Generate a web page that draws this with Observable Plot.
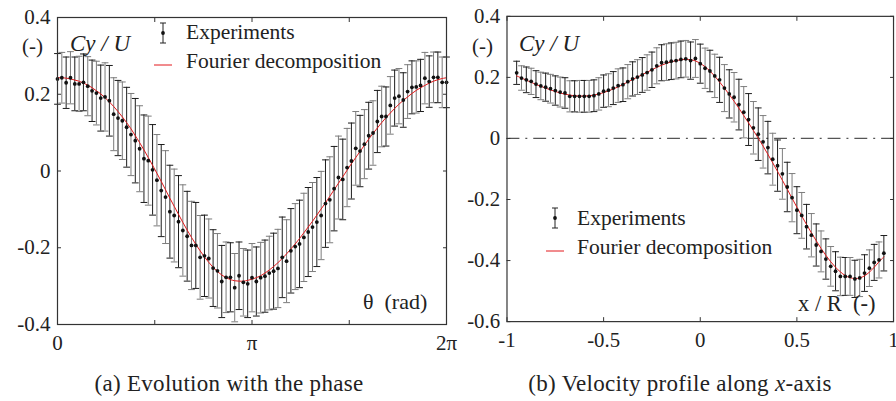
<!DOCTYPE html>
<html><head><meta charset="utf-8">
<script src="https://cdn.jsdelivr.net/npm/d3@7"></script>
<script src="https://cdn.jsdelivr.net/npm/@observablehq/plot@0.6"></script>
<style>
html,body{margin:0;padding:0;background:#fff;overflow:hidden;width:896px;height:401px;}
#wrap{position:relative;width:896px;height:401px;overflow:hidden;}
#left{position:absolute;left:0;top:0;}
#right{position:absolute;left:450px;top:0;}
#overlay{position:absolute;left:0;top:0;pointer-events:none;}
#overlay text{font-family:'Liberation Serif',serif;fill:#222;}
</style></head>
<body><div id="wrap"><div id="left"></div><div id="right"></div>
<svg id="overlay" width="896" height="401">
  <!-- left panel texts -->
  <text x="22" y="53" font-size="21">(-)</text>
  <text x="70" y="51" font-size="23" font-style="italic">Cy / U</text>
  <g stroke="#222" stroke-width="1">
    <line x1="163" y1="23" x2="163" y2="43"/><line x1="160" y1="23" x2="166" y2="23"/><line x1="160" y1="43" x2="166" y2="43"/>
  </g>
  <circle cx="163" cy="33" r="1.9" fill="#111"/>
  <line x1="154" y1="65" x2="172" y2="65" stroke="#e3191c" stroke-width="1"/>
  <text x="186" y="39" font-size="21.5">Experiments</text>
  <text x="186" y="68" font-size="21.5">Fourier decomposition</text>
  <text x="363" y="309" font-size="22">θ&#160;&#160;(rad)</text>
  <!-- right panel texts -->
  <text x="472" y="53" font-size="21">(-)</text>
  <text x="519" y="51" font-size="23" font-style="italic">Cy / U</text>
  <g stroke="#222" stroke-width="1">
    <line x1="555" y1="208" x2="555" y2="228"/><line x1="552" y1="208" x2="558" y2="208"/><line x1="552" y1="228" x2="558" y2="228"/>
  </g>
  <circle cx="555" cy="218" r="1.9" fill="#111"/>
  <line x1="546" y1="251" x2="564" y2="251" stroke="#e3191c" stroke-width="1"/>
  <text x="577" y="225" font-size="21.5">Experiments</text>
  <text x="577" y="254" font-size="21.5">Fourier decomposition</text>
  <text x="798" y="311" font-size="22.5">x / R&#160;&#160;(-)</text>
  <!-- captions -->
  <text x="229" y="391" font-size="23" text-anchor="middle" letter-spacing="0.3">(a) Evolution with the phase</text>
  <text x="680" y="391" font-size="23" text-anchor="middle" letter-spacing="0.3">(b) Velocity profile along <tspan font-style="italic">x</tspan>-axis</text>
</svg>
</div>
<script>
// ---------- Panel (a): evolution with the phase ----------
const phaseDeg = [0,4,8,12,16,20,24,28,32,36,40,44,48,52,56,60,64,68,72,76,80,84,88,92,96,100,104,108,112,116,120,124,128,132,136,140,144,148,152,156,160,164,168,172,176,180,184,188,192,196,200,204,208,212,216,220,224,228,232,236,240,244,248,252,256,260,264,268,272,276,280,284,288,292,296,300,304,308,312,316,320,324,328,332,336,340,344,348,352,356,360];
const phaseCy = [0.240,0.243,0.230,0.243,0.227,0.227,0.231,0.221,0.209,0.203,
  0.190,0.193,0.183,0.148,0.138,0.131,0.114,0.095,0.079,0.058,
  0.032,0.027,0.003,-0.024,-0.051,-0.068,-0.106,-0.116,-0.132,-0.155,
  -0.170,-0.194,-0.194,-0.225,-0.221,-0.228,-0.253,-0.260,-0.288,-0.277,
  -0.277,-0.304,-0.273,-0.290,-0.294,-0.278,-0.288,-0.278,-0.274,-0.266,
  -0.261,-0.254,-0.225,-0.235,-0.208,-0.197,-0.190,-0.173,-0.159,-0.146,
  -0.133,-0.116,-0.085,-0.075,-0.046,-0.017,-0.022,0.009,0.026,0.059,
  0.052,0.070,0.092,0.099,0.129,0.142,0.142,0.171,0.190,0.195,
  0.185,0.207,0.218,0.219,0.223,0.242,0.233,0.244,0.244,0.231,0.231];
const phaseFit = [0.243,0.243,0.242,0.240,0.237,0.234,0.229,0.224,0.217,0.209,
  0.201,0.191,0.180,0.168,0.155,0.141,0.126,0.110,0.092,0.074,
  0.055,0.035,0.015,-0.006,-0.027,-0.049,-0.071,-0.092,-0.113,-0.134,
  -0.154,-0.173,-0.191,-0.208,-0.224,-0.238,-0.251,-0.262,-0.271,-0.278,
  -0.283,-0.286,-0.287,-0.287,-0.285,-0.282,-0.278,-0.273,-0.266,-0.258,
  -0.249,-0.239,-0.228,-0.216,-0.203,-0.190,-0.176,-0.161,-0.146,-0.131,
  -0.115,-0.099,-0.083,-0.066,-0.049,-0.032,-0.015,0.002,0.019,0.035,
  0.051,0.067,0.083,0.098,0.112,0.126,0.139,0.151,0.163,0.174,
  0.184,0.193,0.202,0.210,0.217,0.223,0.229,0.234,0.238,0.241,0.243];
const phaseErr = [0.066,0.066,0.067,0.068,0.070,0.072,0.074,0.077,0.080,0.083,
  0.086,0.089,0.092,0.095,0.098,0.101,0.104,0.107,0.110,0.112,
  0.114,0.116,0.118,0.119,0.120,0.121,0.121,0.121,0.120,0.119,
  0.117,0.115,0.112,0.109,0.106,0.103,0.100,0.097,0.094,0.092,
  0.090,0.089,0.088,0.088,0.088,0.089,0.090,0.092,0.094,0.096,
  0.099,0.102,0.105,0.108,0.110,0.112,0.114,0.115,0.116,0.116,
  0.116,0.115,0.114,0.112,0.110,0.108,0.105,0.102,0.099,0.096,
  0.093,0.090,0.087,0.084,0.081,0.079,0.077,0.075,0.073,0.072,
  0.071,0.070,0.069,0.068,0.068,0.067,0.067,0.066,0.066,0.066,0.066];
const phaseTicks = [0,90,180,270,360];
const phaseTickLabels = ["0","","π","","2π"];
const cyTicksA = [-0.4,-0.2,0,0.2,0.4];
const cyTickLabelsA = ["-0.4","-0.2","0","0.2","0.4"];

// ---------- Panel (b): velocity profile along x-axis ----------
const xR = [-0.95,-0.925,-0.9,-0.875,-0.85,-0.825,-0.8,-0.775,-0.75,-0.725,-0.7,-0.675,-0.65,-0.625,-0.6,-0.575,-0.55,-0.525,-0.5,-0.475,-0.45,-0.425,-0.4,-0.375,-0.35,-0.325,-0.3,-0.275,-0.25,-0.225,-0.2,-0.175,-0.15,-0.125,-0.1,-0.075,-0.05,-0.025,0,0.025,0.05,0.075,0.1,0.125,0.15,0.175,0.2,0.225,0.25,0.275,0.3,0.325,0.35,0.375,0.4,0.425,0.45,0.475,0.5,0.525,0.55,0.575,0.6,0.625,0.65,0.675,0.7,0.725,0.75,0.775,0.8,0.825,0.85,0.875,0.9,0.925,0.95];
const profCy = [0.215,0.198,0.192,0.187,0.178,0.172,0.168,0.163,0.157,0.152,
  0.149,0.138,0.138,0.138,0.138,0.138,0.140,0.146,0.155,0.158,
  0.165,0.173,0.176,0.186,0.195,0.201,0.208,0.216,0.225,0.238,
  0.248,0.250,0.253,0.255,0.259,0.261,0.255,0.262,0.245,0.230,
  0.221,0.205,0.192,0.165,0.146,0.135,0.111,0.086,0.062,0.035,
  0.014,-0.011,-0.030,-0.068,-0.089,-0.116,-0.159,-0.194,-0.235,-0.252,
  -0.289,-0.317,-0.349,-0.370,-0.395,-0.419,-0.435,-0.452,-0.452,-0.452,
  -0.460,-0.457,-0.441,-0.425,-0.406,-0.398,-0.376];
const profFit = [0.205,0.198,0.191,0.184,0.177,0.171,0.165,0.159,0.154,0.149,
  0.145,0.142,0.140,0.139,0.139,0.140,0.142,0.146,0.150,0.156,
  0.162,0.169,0.177,0.185,0.193,0.201,0.209,0.217,0.225,0.233,
  0.240,0.246,0.251,0.255,0.258,0.259,0.258,0.254,0.246,0.235,
  0.221,0.204,0.185,0.165,0.144,0.122,0.099,0.075,0.051,0.026,
  0.001,-0.025,-0.052,-0.080,-0.108,-0.137,-0.166,-0.196,-0.225,-0.254,
  -0.282,-0.309,-0.335,-0.360,-0.383,-0.404,-0.422,-0.437,-0.449,-0.456,
  -0.459,-0.457,-0.450,-0.438,-0.422,-0.404,-0.388];
const profErr = [0.038,0.040,0.042,0.043,0.044,0.045,0.046,0.047,0.048,0.049,0.050,
  0.051,0.051,0.052,0.052,0.052,0.052,0.053,0.053,0.054,0.054,
  0.055,0.055,0.056,0.056,0.057,0.057,0.058,0.058,0.059,0.059,
  0.060,0.060,0.060,0.060,0.060,0.061,0.062,0.064,0.066,0.068,
  0.071,0.074,0.077,0.079,0.081,0.083,0.084,0.085,0.086,0.086,
  0.086,0.086,0.085,0.084,0.083,0.081,0.079,0.077,0.075,0.073,
  0.071,0.069,0.067,0.066,0.065,0.064,0.063,0.062,0.062,0.061,
  0.061,0.060,0.060,0.059,0.059,0.058];
const xTicksB = [-1,-0.5,0,0.5,1];
const xTickLabelsB = ["-1","-0.5","0","0.5","1"];
const cyTicksB = [-0.6,-0.4,-0.2,0,0.2,0.4];
const cyTickLabelsB = ["-0.6","-0.4","-0.2","0","0.2","0.4"];

// ---------- helpers ----------
const capSymbol = {draw(ctx, size){ const r = Math.sqrt(size/Math.PI); ctx.moveTo(-r,0); ctx.lineTo(r,0); }};
const barColors = ["#1c1c1c","#7c7c7c"];
const fmt = (ticks, labels) => { const m = new Map(ticks.map((t,i)=>[t,labels[i]])); return d => m.has(d) ? m.get(d) : ""; };
const baseStyle = {fontFamily:"'Liberation Serif', serif", fontSize:"21px", color:"#222", background:"transparent", overflow:"visible"};

function panel(xs, ys, fit, err, opts){
  const data = xs.map((x,i)=>({x, v: ys[i], lo: ys[i]-err[i], hi: ys[i]+err[i], fit: fit[i], c: barColors[i%2]}));
  const extra = opts.extra || [];
  return Plot.plot({
    width: opts.width, height: 360,
    marginLeft: 57, marginRight: opts.marginRight, marginTop: opts.marginTop, marginBottom: 36,
    style: baseStyle,
    x: {domain: opts.xDomain},
    y: {domain: opts.yDomain},
    marks: [
      ...extra,
      Plot.ruleX(data, {x:"x", y1:"lo", y2:"hi", stroke:"c", strokeWidth:1}),
      Plot.dot(data, {x:"x", y:"hi", symbol: capSymbol, r: 3.4, stroke:"c", fill:"none", strokeWidth:1}),
      Plot.dot(data, {x:"x", y:"lo", symbol: capSymbol, r: 3.4, stroke:"c", fill:"none", strokeWidth:1}),
      Plot.line(data, {x:"x", y:"fit", stroke:"#e3191c", strokeWidth:1, curve:"catmull-rom"}),
      Plot.dot(data, {x:"x", y:"v", r:1.9, fill:"#111", stroke:"none"}),
      Plot.frame({stroke:"#333", strokeWidth:1.2}),
      Plot.axisX(opts.xTicks, {anchor:"bottom", tickSize:-4, tickPadding:15, label:null, tickFormat: fmt(opts.xTicks, opts.xLabels), stroke:"#333"}),
      Plot.axisX(opts.xTicks, {anchor:"top", tickSize:-4, label:null, tickFormat: () => "", stroke:"#333"}),
      Plot.axisY(opts.yTicks, {anchor:"left", tickSize:-4, tickPadding:11, label:null, tickFormat: fmt(opts.yTicks, opts.yLabels), stroke:"#333"}),
      Plot.axisY(opts.yTicks, {anchor:"right", tickSize:-4, label:null, tickFormat: () => "", stroke:"#333"})
    ]
  });
}

document.getElementById("left").append(panel(phaseDeg, phaseCy, phaseFit, phaseErr, {
  width: 460, marginRight: 14, marginTop: 17, xDomain:[0,360], yDomain:[-0.4,0.4],
  xTicks: phaseTicks, xLabels: phaseTickLabels, yTicks: cyTicksA, yLabels: cyTickLabelsA
}));

document.getElementById("right").append(panel(xR, profCy, profFit, profErr, {
  width: 450, marginRight: 3, marginTop: 16, xDomain:[-1,1], yDomain:[-0.6,0.4],
  xTicks: xTicksB, xLabels: xTickLabelsB, yTicks: cyTicksB, yLabels: cyTickLabelsB,
  extra: [Plot.ruleY([0], {stroke:"#555", strokeWidth:1.2, strokeDasharray:"13,6,2,6"})]
}));
</script>
</body></html>
